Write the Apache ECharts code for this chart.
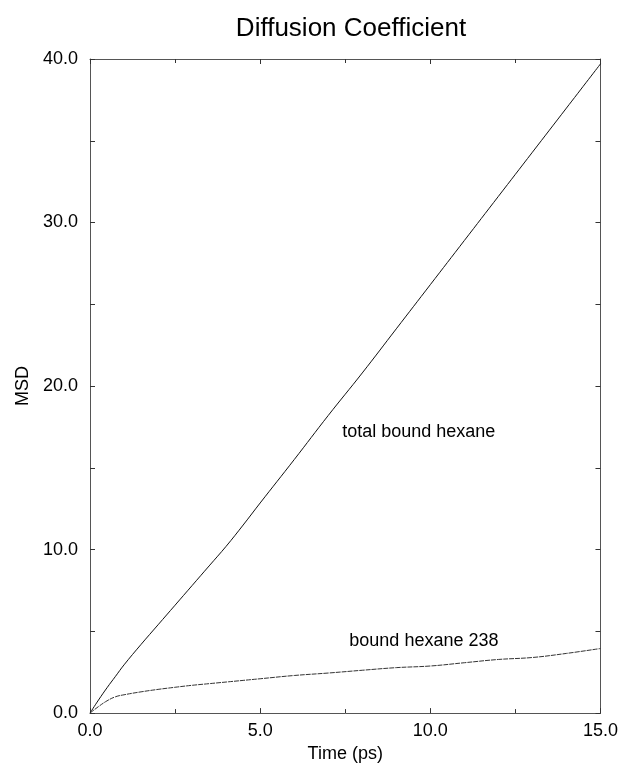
<!DOCTYPE html>
<html>
<head>
<meta charset="utf-8">
<script src="https://cdn.jsdelivr.net/npm/echarts@6/dist/echarts.min.js"></script>
<style>
  html, body { margin: 0; padding: 0; background: #fff; }
  #chart { width: 621px; height: 768px; }
</style>
</head>
<body>
<div id="chart"></div>
<script>
// Mean square displacement vs. time
const timePs = [0, 0.25, 0.5, 0.75, 1.0, 1.5, 2.0, 2.5, 3.0, 3.5, 4.0, 4.5, 5.0, 6.0, 7.0, 8.0, 9.0, 10.0, 11.0, 12.0, 13.0, 14.0, 15.0];
const totalBoundHexane = [0, 0.8, 1.55, 2.25, 2.95, 4.2, 5.4, 6.6, 7.8, 9.0, 10.2, 11.5, 12.85, 15.5, 18.2, 20.8, 23.5, 26.2, 28.9, 31.6, 34.3, 37.0, 39.7];
const boundHexane238 = [0, 0.4, 0.75, 1.0, 1.12, 1.3, 1.45, 1.58, 1.7, 1.8, 1.9, 2.0, 2.1, 2.3, 2.45, 2.62, 2.78, 2.88, 3.08, 3.28, 3.4, 3.65, 3.95];

const xTicks = [0, 5, 10, 15];
const yTicks = [0, 10, 20, 30, 40];

const titleText = 'Diffusion Coefficient';
const xName = 'Time (ps)';
const yName = 'MSD';
const curveLabels = [
  { text: 'total bound hexane', at: [7.41, 17.2] },
  { text: 'bound hexane 238', at: [7.62, 4.4] }
];

const FONT = 'Liberation Sans, Arial, Helvetica, sans-serif';
const frameColor = '#555';

const chart = echarts.init(document.getElementById('chart'), null, { renderer: 'canvas' });

const fmt = v => Number(v).toFixed(1);

function xAxisCfg(pos, showLabels) {
  return {
    type: 'value', position: pos, min: xTicks[0], max: xTicks[xTicks.length - 1], interval: xTicks[1] - xTicks[0],
    axisLine: { show: true, onZero: false, lineStyle: { color: frameColor, width: 1 } },
    axisTick: { show: true, inside: true, length: 5, lineStyle: { color: '#333' } },
    minorTick: { show: true, splitNumber: 2, length: 4, lineStyle: { color: '#333' } },
    axisLabel: { show: showLabels, formatter: fmt, color: '#000', fontFamily: FONT, fontSize: 18, margin: 9 },
    splitLine: { show: false },
    name: showLabels ? xName : '', nameLocation: 'middle', nameGap: 30,
    nameTextStyle: { color: '#000', fontFamily: FONT, fontSize: 18 }
  };
}
function yAxisCfg(pos, showLabels) {
  return {
    type: 'value', position: pos, min: yTicks[0], max: yTicks[yTicks.length - 1], interval: yTicks[1] - yTicks[0],
    axisLine: { show: true, onZero: false, lineStyle: { color: frameColor, width: 1 } },
    axisTick: { show: true, inside: true, length: 5, lineStyle: { color: '#333' } },
    minorTick: { show: true, splitNumber: 2, length: 5, lineStyle: { color: '#333' } },
    axisLabel: { show: showLabels, formatter: fmt, color: '#000', fontFamily: FONT, fontSize: 18, margin: 12 },
    splitLine: { show: false },
    name: showLabels ? yName : '', nameLocation: 'middle', nameGap: 56, nameRotate: 90,
    nameTextStyle: { color: '#000', fontFamily: FONT, fontSize: 18 }
  };
}

const lineSeries = (name, values, color, type) => ({
  name, type: 'line', xAxisIndex: 0, yAxisIndex: 0,
  data: timePs.map((t, i) => [t, values[i]]),
  showSymbol: false, smooth: 0.4, animation: false,
  lineStyle: { color, width: 1, type }
});

chart.setOption({
  animation: false,
  backgroundColor: '#fff',
  title: {
    text: titleText, left: 346, top: 11, textAlign: 'center',
    textStyle: { fontFamily: FONT, fontSize: 26, fontWeight: 'normal', color: '#000' }
  },
  grid: { left: 90, right: 19, top: 59, bottom: 47, containLabel: false },
  xAxis: [xAxisCfg('bottom', true), xAxisCfg('top', false)],
  yAxis: [yAxisCfg('left', true), yAxisCfg('right', false)],
  series: [
    lineSeries('total bound hexane', totalBoundHexane, '#111', 'solid'),
    lineSeries('bound hexane 238', boundHexane238, '#333', [5, 1])
  ]
});

// Curve annotations placed in data coordinates
chart.setOption({
  graphic: curveLabels.map(l => {
    const p = chart.convertToPixel({ xAxisIndex: 0, yAxisIndex: 0 }, l.at);
    return {
      type: 'text', x: p[0], y: p[1],
      style: { text: l.text, fill: '#000', font: '18px ' + FONT, textAlign: 'left', textVerticalAlign: 'middle' }
    };
  })
});
</script>
</body>
</html>
